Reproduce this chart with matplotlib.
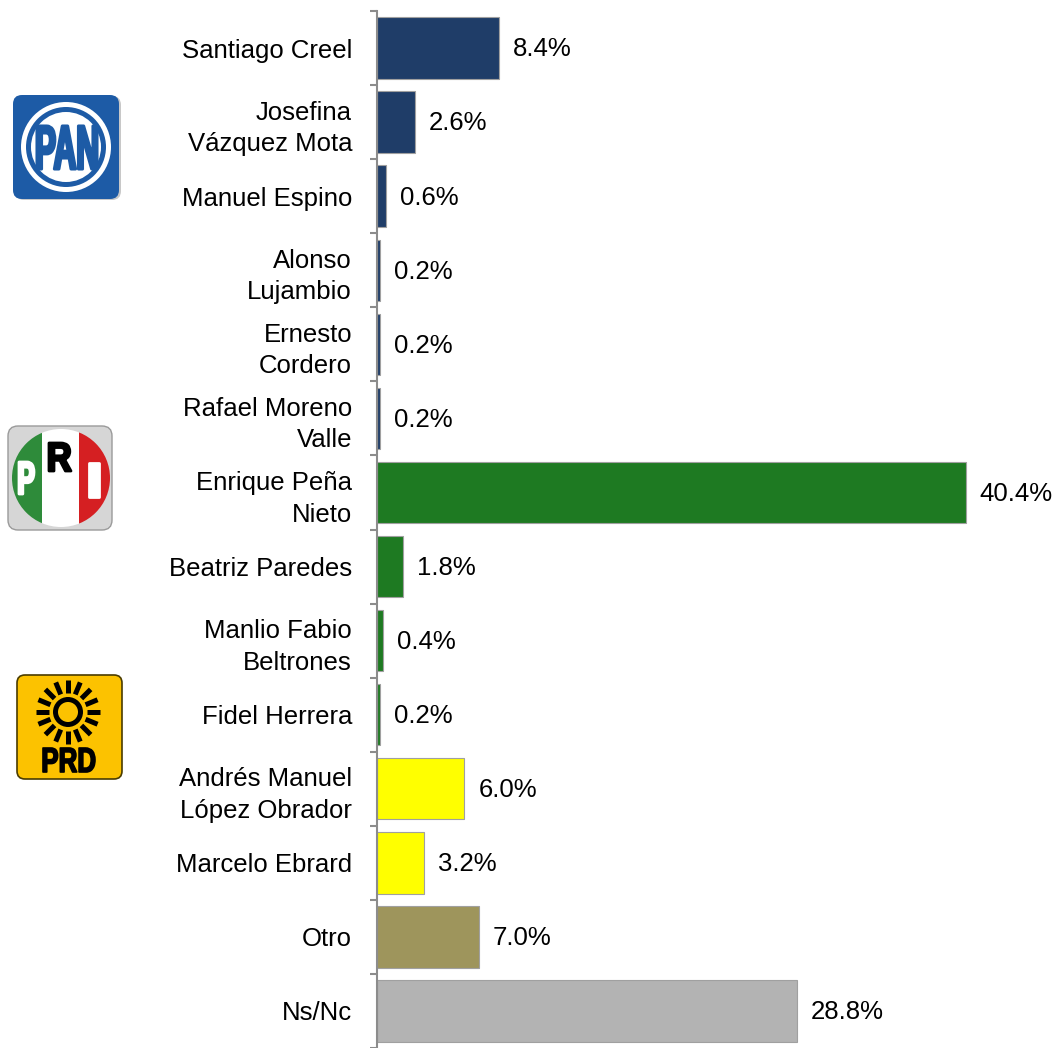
import matplotlib
matplotlib.use("Agg")
import matplotlib.pyplot as plt
from matplotlib.patches import FancyBboxPatch, Circle, Rectangle, PathPatch
from matplotlib.textpath import TextPath
from matplotlib.font_manager import FontProperties
from matplotlib.transforms import Affine2D
import numpy as np

plt.rcParams['font.family'] = ['Liberation Sans', 'DejaVu Sans']

candidates = ["Santiago Creel", "Josefina\nVázquez Mota", "Manuel Espino",
              "Alonso\nLujambio", "Ernesto\nCordero", "Rafael Moreno\nValle",
              "Enrique Peña\nNieto", "Beatriz Paredes", "Manlio Fabio\nBeltrones",
              "Fidel Herrera", "Andrés Manuel\nLópez Obrador", "Marcelo Ebrard",
              "Otro", "Ns/Nc"]
values = [8.4, 2.6, 0.6, 0.2, 0.2, 0.2, 40.4, 1.8, 0.4, 0.2, 6.0, 3.2, 7.0, 28.8]
parties = ["PAN"] * 6 + ["PRI"] * 4 + ["PRD"] * 2 + ["Otro", "NsNc"]
party_colors = {"PAN": "#1f3d68", "PRI": "#1e7a22", "PRD": "#ffff00",
                "Otro": "#9e955c", "NsNc": "#b3b3b3"}

W, H = 1057, 1048
fig = plt.figure(figsize=(W / 100, H / 100), dpi=100)

ax_left = 377 / W
ax_right = 1033 / W
ax_top = 11 / H
ax = fig.add_axes([ax_left, 0, ax_right - ax_left, 1 - ax_top])

n = len(values)
y = np.arange(n)
colors = [party_colors[p] for p in parties]
ax.barh(y, values, height=0.83, color=colors, edgecolor="#a0a0a0", linewidth=0.8)
ax.set_xlim(0, 45)
ax.set_ylim((1048 - 48) / 74.4, -0.5)

for yi, v in zip(y, values):
    ax.annotate(f"{v:.1f}%", xy=(v, yi), xytext=(10, -1), textcoords="offset points",
                va="center", ha="left", fontsize=18.5, color="black")

ax.set_yticks(y)
ax.set_yticklabels(candidates, fontsize=18.5, ha="right", linespacing=1.4)
ax.tick_params(axis="y", which="major", length=0, pad=18)
ax.set_yticks(np.arange(-0.5, n, 1), minor=True)
ax.tick_params(axis="y", which="minor", length=5, width=1.5, color="#8c8c8c")
ax.set_xticks([])
for s in ["top", "right", "bottom"]:
    ax.spines[s].set_visible(False)
ax.spines["left"].set_color("#8c8c8c")
ax.spines["left"].set_linewidth(1.5)

# ---- logos (decoration) in pixel-coordinate overlay ----
ov = fig.add_axes([0, 0, 1, 1])
ov.set_xlim(0, W)
ov.set_ylim(H, 0)
ov.axis("off")
ov.patch.set_alpha(0)


def fit_text(s, x0, y0, w, h, color, stroke=0.0):
    tp = TextPath((0, 0), s, size=10,
                  prop=FontProperties(family="Liberation Sans", weight="bold"))
    bb = tp.get_extents()
    tr = Affine2D().translate(-bb.x0, -bb.y0).scale(w / bb.width, -h / bb.height).translate(x0, y0 + h)
    ov.add_patch(PathPatch(tr.transform_path(tp), fc=color,
                           ec=color if stroke else "none", lw=stroke, joinstyle="round"))


# PAN
pan_blue = "#1d5ba6"
ov.add_patch(FancyBboxPatch((15, 96), 106, 104, boxstyle="round,pad=0,rounding_size=9",
                            fc="#c8c8c8", ec="none"))
ov.add_patch(FancyBboxPatch((13, 95), 106, 104, boxstyle="round,pad=0,rounding_size=9",
                            fc=pan_blue, ec="none"))
cx, cy = 66, 147
ov.add_patch(Circle((cx, cy), 45, fc="white", ec="none"))
ov.add_patch(Circle((cx, cy), 40, fc=pan_blue, ec="none"))
ov.add_patch(Circle((cx, cy), 35, fc="white", ec="none"))
fit_text("PAN", 37, 126, 60, 43, pan_blue, stroke=2.2)

# PRI
ov.add_patch(FancyBboxPatch((8, 426), 104, 104, boxstyle="round,pad=0,rounding_size=10",
                            fc="#d6d6d6", ec="#9a9a9a", lw=1))
pc = Circle((61, 478), 49, transform=ov.transData)
for x0, x1, c in [(10, 42, "#2e8b3a"), (42, 79, "white"), (79, 112, "#d51f22")]:
    r = Rectangle((x0, 425), x1 - x0, 106, fc=c, ec="none")
    ov.add_patch(r)
    r.set_clip_path(pc)
fit_text("P", 19, 462, 15, 32, "white", stroke=2.0)
fit_text("R", 49, 443, 22, 28, "black", stroke=2.0)
fit_text("I", 89, 463, 10, 34, "white", stroke=2.0)

# PRD
ov.add_patch(FancyBboxPatch((17, 675), 105, 104, boxstyle="round,pad=0,rounding_size=8",
                            fc="#fcc200", ec="#4a3c00", lw=1.2))
sx, sy = 68, 712
for ang in np.linspace(0, 2 * np.pi, 16, endpoint=False):
    ov.plot([sx + 19 * np.cos(ang), sx + 32 * np.cos(ang)],
            [sy + 19 * np.sin(ang), sy + 32 * np.sin(ang)],
            color="black", lw=3.6, solid_capstyle="butt")
ov.add_patch(Circle((sx, sy), 15, fc="black", ec="none"))
ov.add_patch(Circle((sx, sy), 10, fc="#fcc200", ec="none"))
fit_text("PRD", 43, 748, 52, 24, "black", stroke=1.2)

fig.savefig("out.png", dpi=100)
